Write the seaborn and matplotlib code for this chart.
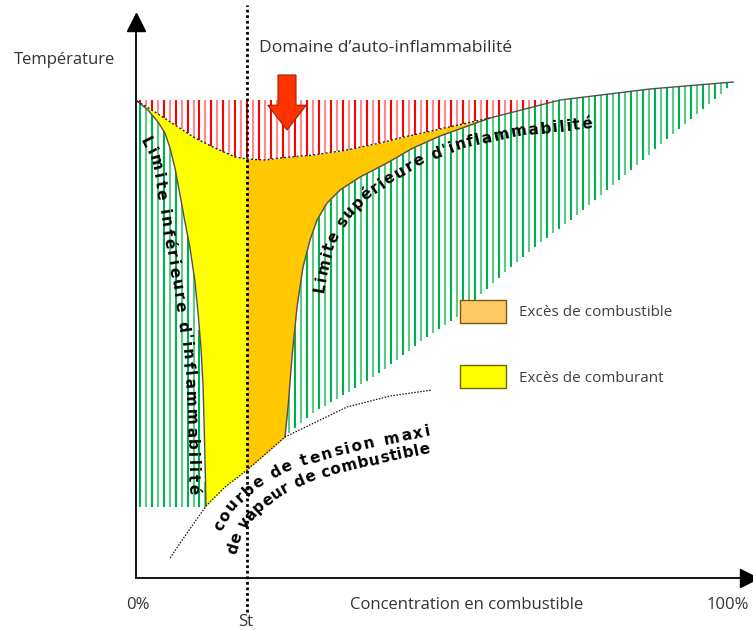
import numpy as np
import pandas as pd
import matplotlib
matplotlib.use("Agg")
import matplotlib.pyplot as plt
import seaborn as sns
from matplotlib.patches import Patch
from matplotlib.font_manager import FontProperties
from matplotlib.textpath import TextToPath

# ---------------- data (concentration %, temperature in arbitrary units) ----------------
lower_limit_x = [0.17, 2.00, 3.67, 4.84, 5.68, 6.51, 7.35, 8.18, 9.02, 9.85, 10.35, 10.85, 11.19, 11.35, 11.52, 11.69]
lower_limit_y = [96.17, 94.35, 91.94, 89.72, 86.69, 82.66, 77.22, 71.77, 66.53, 59.68, 53.63, 46.37, 38.91, 31.85, 23.79, 14.52]

auto_x = [0.17, 3.17, 6.51, 9.85, 13.19, 16.53, 18.53, 21.54, 24.04, 29.55, 35.23, 40.73, 44.07, 50.75, 59.10]
auto_y = [96.17, 93.95, 91.33, 88.71, 86.69, 84.88, 84.48, 84.27, 84.68, 85.28, 86.29, 87.70, 88.71, 90.52, 92.74]

upper_limit_x = [24.87, 25.38, 26.04, 26.88, 27.88, 29.05, 30.22, 31.89, 34.06, 37.40, 41.90, 46.24, 50.75, 59.10, 70.78, 85.81, 99.67]
upper_limit_y = [28.43, 34.48, 44.56, 54.64, 62.70, 68.15, 72.18, 75.60, 78.23, 80.85, 83.67, 86.69, 89.11, 92.74, 96.37, 98.59, 100.00]

vapour_x = [5.68, 8.18, 11.69, 14.86, 18.53, 24.87, 30.72, 35.23, 42.40, 49.42]
vapour_y = [4.03, 8.47, 14.52, 18.35, 21.77, 28.43, 31.85, 34.48, 36.69, 37.90]

green_floor_x = [24.87, 29.55, 35.23, 40.73, 47.91, 53.59, 61.94, 67.45, 72.95, 78.63, 99.67]
green_floor_y = [28.43, 33.27, 37.30, 41.33, 47.98, 52.62, 62.10, 67.54, 72.58, 78.23, 99.80]

red_top = 96.37
left_green_floor = 14.3
stoich = 18.53

tick_pos = [0, 100]
tick_labels = ["0%", "100%"]
legend_labels = ["Excès de combustible", "Excès de comburant"]

# ---------------- style ----------------
W, H, DPI = 7.53, 6.30, 100
PXW, PXH = 753, 630
sns.set_theme(style="white")
plt.rcParams["font.family"] = ["Open Sans", "DejaVu Sans"]

YELLOW = "#FFFF00"
ORANGE = "#FFC800"
RED_D, RED_L = "#FF0000", "#FF8A8A"
GRN_D, GRN_L = "#00B050", "#5CCB86"
TXT = "#333333"

fig = plt.figure(figsize=(W, H), dpi=DPI)
x0, x1, ytop, ybot = 136, 745, 15, 578
ax = fig.add_axes([x0 / PXW, (PXH - ybot) / PXH, (x1 - x0) / PXW, (ybot - ytop) / PXH])
SX, SY = 5.99, 4.96
ax.set_xlim(0, (x1 - x0) / SX)
ax.set_ylim(0, (ybot - ytop) / SY)
ax.set_facecolor("white")


def px2d(px, py):
    return (px - x0) / SX, (ybot - py) / SY


def interp(x, xs, ys):
    return np.interp(x, np.asarray(xs), np.asarray(ys))


# ---------------- fills ----------------
xs_y = np.linspace(lower_limit_x[0], stoich, 1000)
top_y = interp(xs_y, auto_x, auto_y)
bot_y = np.maximum(interp(xs_y, lower_limit_x, lower_limit_y), interp(xs_y, vapour_x, vapour_y))
ax.fill_between(xs_y, bot_y, top_y, color=YELLOW, lw=0, zorder=2)

xs_o = np.linspace(stoich, auto_x[-1], 1500)
top_o = interp(xs_o, auto_x, auto_y)
bot_o = np.where(xs_o < upper_limit_x[0], interp(xs_o, vapour_x, vapour_y),
                 interp(xs_o, upper_limit_x, upper_limit_y))
ax.fill_between(xs_o, bot_o, top_o, color=ORANGE, lw=0, zorder=2)

# ---------------- hatching (vertical lines) ----------------
hx = np.arange(0.6, 100.0, 1.0)
cols_r = np.array([RED_D if i % 2 == 0 else RED_L for i in range(len(hx))])
cols_g = np.array([GRN_D if i % 2 == 0 else GRN_L for i in range(len(hx))])

red_bot = np.maximum(interp(hx, auto_x, auto_y), interp(hx, upper_limit_x, upper_limit_y))
m = red_bot < red_top
ax.vlines(hx[m], red_bot[m], red_top, colors=cols_r[m], lw=1.5, zorder=1)

lg_top = interp(hx, lower_limit_x, lower_limit_y)
m = hx < lower_limit_x[-1]
ax.vlines(hx[m], left_green_floor, lg_top[m], colors=cols_g[m], lw=1.5, zorder=1)

rg_top = interp(hx, upper_limit_x, upper_limit_y)
rg_bot = interp(hx, green_floor_x, green_floor_y)
m = (hx > upper_limit_x[0]) & (rg_top > rg_bot)
ax.vlines(hx[m], rg_bot[m], rg_top[m], colors=cols_g[m], lw=1.5, zorder=1)

# ---------------- boundary curves (seaborn) ----------------
sns.lineplot(data=pd.DataFrame({"x": lower_limit_x, "y": lower_limit_y}), x="x", y="y",
             sort=False, estimator=None, color="#505050", lw=1.0, ax=ax, zorder=3)
sns.lineplot(data=pd.DataFrame({"x": upper_limit_x, "y": upper_limit_y}), x="x", y="y",
             sort=False, estimator=None, color="#505050", lw=1.0, ax=ax, zorder=3)
sns.lineplot(data=pd.DataFrame({"x": auto_x, "y": auto_y}), x="x", y="y",
             sort=False, estimator=None, color="#222222", lw=1.0, ax=ax, zorder=3,
             linestyle=(0, (1.5, 1.5)))
sns.lineplot(data=pd.DataFrame({"x": vapour_x, "y": vapour_y}), x="x", y="y",
             sort=False, estimator=None, color="#111111", lw=0.9, ax=ax, zorder=3,
             linestyle=(0, (1.2, 1.2)))

# stoichiometric dotted line
ylo = px2d(0, 612)[1]
yhi = px2d(0, 5)[1]
ax.plot([stoich, stoich], [ylo, yhi], color="black", lw=2.0, linestyle=(0, (1, 1)),
        clip_on=False, zorder=4)

# ---------------- axes, arrows ----------------
sns.despine(ax=ax)
for s in ["left", "bottom"]:
    ax.spines[s].set_color("black")
    ax.spines[s].set_linewidth(1.3)
ax.set_yticks([])
ax.set_xticks([])
ax.plot([0], [px2d(0, 22)[1]], marker="^", ms=13, color="black", clip_on=False, zorder=5)
ax.plot([px2d(749, 0)[0]], [0], marker=">", ms=13, color="black", clip_on=False, zorder=5)

# tick-like labels 0% / 100%
for pos, lab, pxc in zip(tick_pos, tick_labels, [138, 728]):
    _, ly = px2d(0, 605)
    lx = px2d(pxc, 0)[0]
    ax.text(lx, ly, lab, fontsize=12, color=TXT, ha="center", va="center", clip_on=False)

ax.set_xlabel("Concentration en combustible", fontsize=12, color=TXT)
ax.xaxis.label.set_va("center")
ax.xaxis.set_label_coords((467 - x0) / (x1 - x0), (ybot - 605) / (ybot - ytop))
ax.set_ylabel("Température", fontsize=12, color=TXT, rotation=0, ha="center", va="center")
ax.yaxis.set_label_coords((65 - x0) / (x1 - x0), (ybot - 60) / (ybot - ytop))

sx, sy = px2d(246, 622)
ax.text(sx, sy, "St", fontsize=12, color=TXT, ha="center", va="center", clip_on=False)
tx, ty = px2d(386, 48)
ax.text(tx, ty, "Domaine d’auto-inflammabilité", fontsize=12.6, color=TXT,
        ha="center", va="center", clip_on=False)

# red arrow
axx, ayy = px2d(287, 75)
_, atip = px2d(287, 130)
ax.arrow(axx, ayy, 0, atip - ayy, width=3.0, head_width=6.4, head_length=5.0,
         length_includes_head=True, fc="#FF3300", ec="#A02000", lw=0.8, zorder=6,
         clip_on=False)

# legend
handles = [Patch(facecolor="#FFC966", edgecolor="#7A5A10", lw=1.0),
           Patch(facecolor=YELLOW, edgecolor="#6A6A00", lw=1.0)]
leg = ax.legend(handles, legend_labels, loc="upper left",
                bbox_to_anchor=(460 / PXW, 1 - 300 / PXH), bbox_transform=fig.transFigure,
                frameon=False, fontsize=11, handlelength=3.0, handleheight=1.94,
                labelspacing=2.76, handletextpad=0.85, borderpad=0, borderaxespad=0)
for t in leg.get_texts():
    t.set_color("#404040")

# ---------------- text along curves ----------------
t2p = TextToPath()


def text_on_path(text, path_px, size, up_shift=4.5):
    fp = FontProperties(family="DejaVu Sans", weight="bold", size=size)
    P = np.array([(x, PXH - y) for x, y in path_px], float)
    seg = np.hypot(*np.diff(P, axis=0).T)
    cum = np.concatenate([[0], np.cumsum(seg)])
    L = cum[-1]
    widths = []
    for ch in text:
        w, _, _ = t2p.get_text_width_height_descent("n" if ch == " " else ch, fp, ismath=False)
        if ch == " ":
            w *= 0.5
        widths.append(w * DPI / 72.0)
    widths = np.array(widths)
    track = (L - widths.sum()) / (len(text) - 1)
    inv = ax.transData.inverted()

    def pt(s):
        return np.array([np.interp(s, cum, P[:, 0]), np.interp(s, cum, P[:, 1])])

    pos = 0.0
    for ch, w in zip(text, widths):
        sc = pos + w / 2
        pos += w + track
        if ch == " ":
            continue
        c = pt(sc)
        d = pt(min(sc + 7, L)) - pt(max(sc - 7, 0))
        d = d / np.hypot(*d)
        up = np.array([-d[1], d[0]])
        b = c - up * up_shift
        ang = np.degrees(np.arctan2(d[1], d[0]))
        bx, by = inv.transform(b)
        ax.text(bx, by, ch, fontproperties=fp, rotation=ang, rotation_mode="anchor",
                ha="center", va="baseline", color="black", zorder=7, clip_on=False)


text_on_path("Limite inférieure d'inflammabilité",
             [(144, 138), (154, 158), (159, 180), (163, 210), (171, 255), (179, 300),
              (185, 340), (189, 380), (191, 430), (193, 494)], 11)
text_on_path("Limite supérieure d'inflammabilité",
             [(319, 292), (324, 265), (332, 240), (345, 217), (365, 196), (390, 178),
              (420, 160), (460, 144), (520, 131), (592, 124)], 11)
text_on_path("courbe de tension maxi",
             [(217, 530), (231, 506), (254, 485), (285, 467), (330, 453), (380, 441), (430, 431)], 11)
text_on_path("de vapeur de combustible",
             [(232, 554), (239, 530), (259, 506), (285, 488), (315, 475), (360, 463), (430, 448)], 11)

fig.savefig("out.png", dpi=DPI, facecolor="white")
